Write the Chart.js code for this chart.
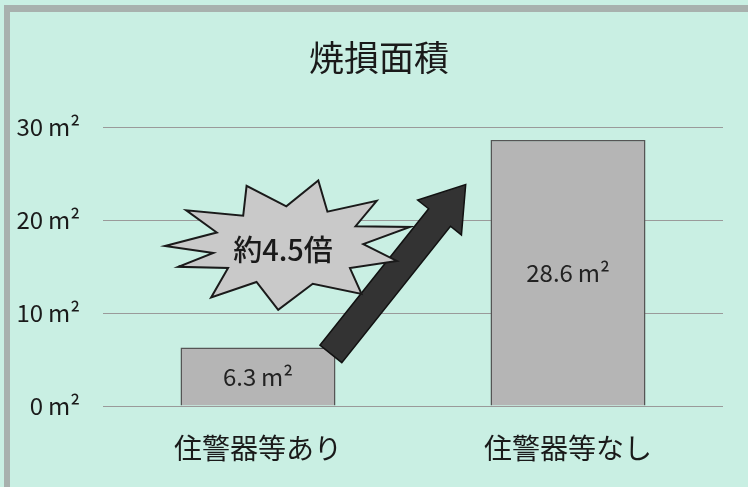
<!DOCTYPE html>
<html><head><meta charset="utf-8">
<script src="https://cdn.jsdelivr.net/npm/chart.js@4/dist/chart.umd.min.js"></script>
<style>
html,body{margin:0;padding:0;background:#c9efe3;}
#wrap{position:relative;width:748px;height:487px;overflow:hidden;}
#frame{position:absolute;left:4px;top:5px;width:760px;height:500px;border-top:7px solid #a8b1ae;border-left:6px solid #a8b1ae;box-sizing:border-box;}
canvas{position:absolute;left:0;top:0;}
</style></head><body>
<div id="wrap"><div id="frame"></div><canvas id="c" width="748" height="487"></canvas></div>
<script>
const titleText = '焼損面積';
const categories = ['住警器等あり', '住警器等なし'];
const areaValues = [6.3, 28.6];
const yTicks = [0, 10, 20, 30];
const unit = 'm²';
const ratioLabel = '約4.5倍';

const FONT = "'Noto Sans CJK JP','Noto Sans',sans-serif";

const decor = {
  id: 'decor',
  afterDatasetsDraw(chart) {
    const ctx = chart.ctx, x = chart.scales.x, y = chart.scales.y;
    const x0 = x.getPixelForValue(0), x1 = x.getPixelForValue(1);
    const fx = v => x0 + (x1 - x0) * v;
    ctx.save();
    // title
    ctx.fillStyle = '#1a1a1a';
    ctx.font = '35px ' + FONT;
    ctx.textAlign = 'center'; ctx.textBaseline = 'middle';
    ctx.fillText(titleText, fx(0.39), 58);
    // value labels inside bars
    const meta = chart.getDatasetMeta(0);
    ctx.fillStyle = '#222';
    ctx.font = '24px ' + FONT;
    meta.data.forEach((bar, i) => {
      const mid = (bar.y + bar.base) / 2;
      ctx.fillText(areaValues[i] + '\u2009' + unit, bar.x, mid);
    });
    // arrow
    const sx = fx(0.235), sy = y.getPixelForValue(5.6);
    const tx = fx(0.67), ty = y.getPixelForValue(23.8);
    const ang = Math.atan2(ty - sy, tx - sx);
    const len = Math.hypot(tx - sx, ty - sy);
    const sw = 14, hw = 28, hl = 42;
    ctx.translate(sx, sy); ctx.rotate(ang);
    ctx.beginPath();
    ctx.moveTo(0, -sw); ctx.lineTo(len - hl, -sw); ctx.lineTo(len - hl, -hw);
    ctx.lineTo(len, 0); ctx.lineTo(len - hl, hw); ctx.lineTo(len - hl, sw);
    ctx.lineTo(0, sw); ctx.closePath();
    ctx.fillStyle = '#333'; ctx.fill();
    ctx.lineWidth = 1.5; ctx.strokeStyle = '#111'; ctx.stroke();
    ctx.setTransform(1, 0, 0, 1, 0, 0);
    // starburst
    const cx = fx(0.1), cy = y.getPixelForValue(17.2);
    const rx = (x1 - x0) * 0.4, ry = 64;
    const spikes = [
      [180, 1.0], [200, 0.62], [214, 1.0], [232, 0.6], [250, 1.0], [268, 0.62],
      [283, 1.05], [300, 0.62], [315, 1.0], [330, 0.62], [343, 1.02], [357, 0.6],
      [15, 0.9], [35, 0.6], [52, 0.95], [72, 0.62], [95, 1.0], [115, 0.62],
      [128, 1.02], [145, 0.6], [160, 0.95], [170, 0.62]
    ];
    ctx.beginPath();
    spikes.forEach(([a, r], i) => {
      const t = a * Math.PI / 180;
      const px = cx + Math.cos(t) * rx * r, py = cy + Math.sin(t) * ry * r;
      if (i === 0) ctx.moveTo(px, py); else ctx.lineTo(px, py);
    });
    ctx.closePath();
    ctx.fillStyle = '#c9c9c9'; ctx.fill();
    ctx.lineWidth = 2; ctx.lineJoin = 'miter'; ctx.strokeStyle = '#1a1a1a'; ctx.stroke();
    ctx.fillStyle = '#1a1a1a';
    ctx.font = '500 29px ' + FONT;
    ctx.textAlign = 'center'; ctx.textBaseline = 'middle';
    ctx.fillText(ratioLabel, cx - 6, cy + 4);
    ctx.restore();
  }
};

new Chart(document.getElementById('c'), {
  type: 'bar',
  data: {
    labels: categories,
    datasets: [{
      data: areaValues,
      backgroundColor: '#b5b5b5',
      borderColor: '#555',
      borderWidth: 1.5,
      borderSkipped: 'bottom',
      barPercentage: 0.5,
      categoryPercentage: 1.0
    }]
  },
  options: {
    responsive: false,
    animation: false,
    devicePixelRatio: 1,
    layout: { padding: { left: 0, right: 25, top: 127, bottom: 0 } },
    plugins: {
      legend: { display: false },
      tooltip: { enabled: false },
      title: { display: false }
    },
    scales: {
      x: {
        grid: { display: false, drawTicks: false },
        border: { display: false },
        ticks: { color: '#1a1a1a', padding: 26, font: { family: FONT, size: 28 } },
        afterFit: s => { s.height = 81; }
      },
      y: {
        min: 0, max: 30,
        afterBuildTicks: s => { s.ticks = yTicks.map(v => ({ value: v })); },
        grid: { color: '#9a9a9a', lineWidth: 1, drawTicks: false },
        border: { display: false },
        ticks: {
          color: '#1a1a1a', padding: 23, font: { family: FONT, size: 24 },
          callback: v => v + '\u2009' + unit
        },
        afterFit: s => { s.width = 103; }
      }
    }
  },
  plugins: [decor]
});
</script>
</body></html>
